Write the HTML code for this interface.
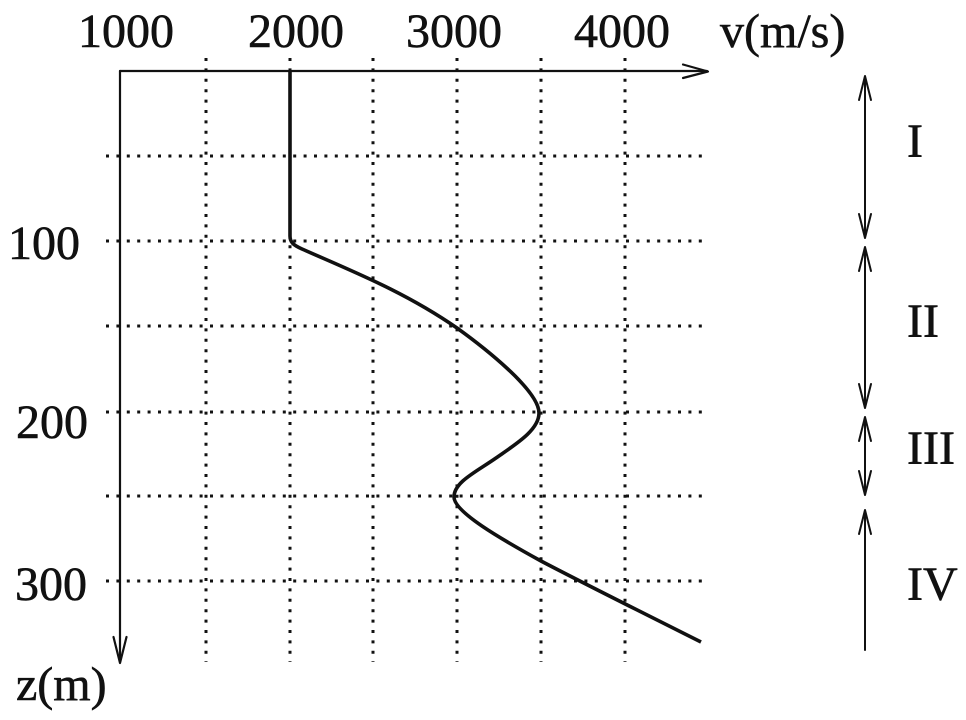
<!DOCTYPE html>
<html>
<head>
<meta charset="utf-8">
<style>
html,body{margin:0;padding:0;background:#fff;}
svg{display:block;}
text{font-family:"Liberation Serif","Times New Roman",serif;font-size:48px;fill:#111;stroke:#111;stroke-width:0.6;}
</style>
</head>
<body>
<svg width="966" height="720" viewBox="0 0 966 720" xmlns="http://www.w3.org/2000/svg">
  <rect width="966" height="720" fill="#fff"/>
  <!-- dotted grid -->
  <g stroke="#111" stroke-width="3" stroke-dasharray="3 7.4" fill="none">
    <line x1="106" y1="156" x2="707" y2="156"/>
    <line x1="106" y1="241" x2="707" y2="241"/>
    <line x1="106" y1="326" x2="707" y2="326"/>
    <line x1="106" y1="412" x2="707" y2="412"/>
    <line x1="106" y1="496" x2="707" y2="496"/>
    <line x1="106" y1="581" x2="707" y2="581"/>
    <line x1="206" y1="58" x2="206" y2="662"/>
    <line x1="290" y1="58" x2="290" y2="662"/>
    <line x1="373" y1="58" x2="373" y2="662"/>
    <line x1="457" y1="58" x2="457" y2="662"/>
    <line x1="541" y1="58" x2="541" y2="662"/>
    <line x1="625" y1="58" x2="625" y2="662"/>
  </g>
  <!-- axes -->
  <g stroke="#111" stroke-width="2.2" fill="none" stroke-linecap="round" stroke-linejoin="round">
    <line x1="120" y1="71" x2="707" y2="71"/>
    <polyline points="683,64.5 708,71.5 683,78"/>
    <line x1="120" y1="71" x2="120" y2="662"/>
    <polyline points="113.5,637 120,663 126.5,637"/>
  </g>
  <!-- curve -->
  <path d="M290,71 L290,236 C290,242 293,245 302,249 C354,272 405,292 457,328 C482,346 539,390 539,413 C539,430 516,444 496,458 C476,472 454,482 454,497 C454,512 501,539 541,561 C581,582 661,622 701,642" stroke="#111" stroke-width="3.6" fill="none" stroke-linejoin="round"/>
  <!-- right layer arrows -->
  <g stroke="#111" stroke-width="2" fill="none" stroke-linecap="round" stroke-linejoin="round">
    <line x1="865" y1="77" x2="865" y2="237"/>
    <polyline points="859,100 865,76 871,100"/>
    <polyline points="859,214 865,238 871,214"/>
    <line x1="865" y1="248" x2="865" y2="407"/>
    <polyline points="859,271 865,247 871,271"/>
    <polyline points="859,384 865,408 871,384"/>
    <line x1="865" y1="418" x2="865" y2="494"/>
    <polyline points="859,441 865,417 871,441"/>
    <polyline points="859,471 865,495 871,471"/>
    <line x1="865" y1="511" x2="865" y2="650"/>
    <polyline points="859,534 865,510 871,534"/>
  </g>
  <!-- labels -->
  <text x="78" y="47">1000</text>
  <text x="248" y="47">2000</text>
  <text x="406" y="47">3000</text>
  <text x="574" y="47">4000</text>
  <text x="720" y="47">v(m/s)</text>
  <text x="8" y="259">100</text>
  <text x="16" y="438">200</text>
  <text x="15" y="600">300</text>
  <text x="16" y="700">z(m)</text>
  <text x="907" y="157">I</text>
  <text x="907" y="337">II</text>
  <text x="907" y="464">III</text>
  <text x="907" y="600">IV</text>
</svg>
</body>
</html>
